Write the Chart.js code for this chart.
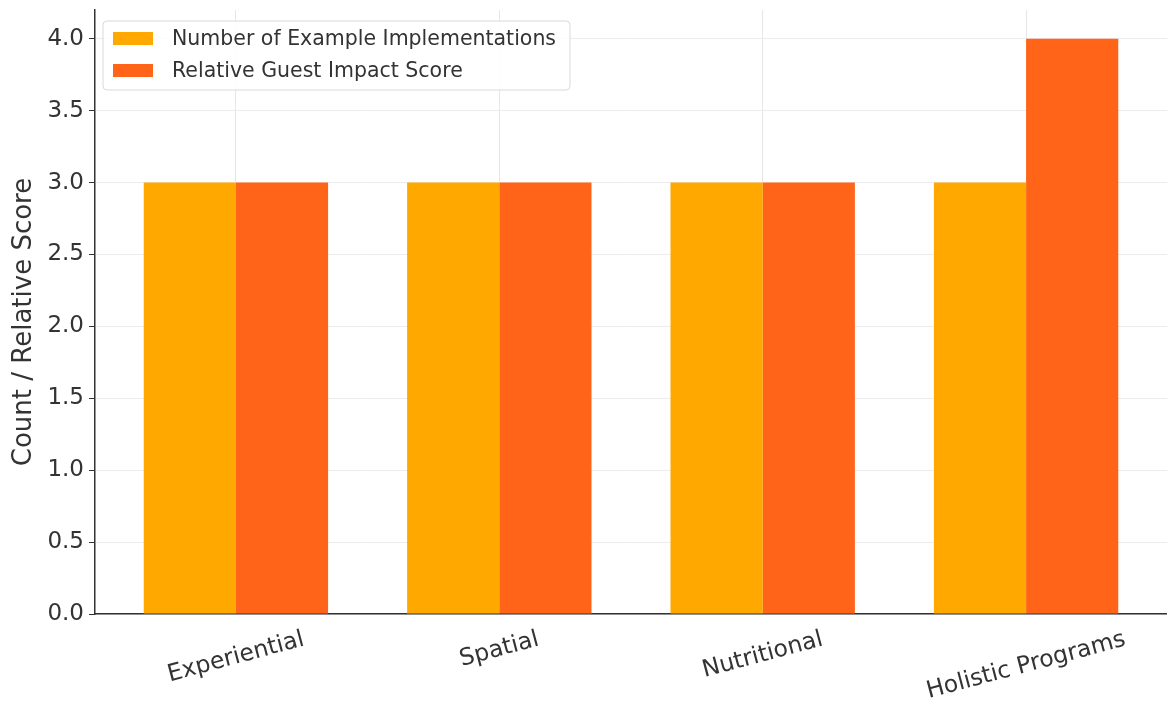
<!DOCTYPE html>
<html>
<head>
<meta charset="utf-8">
<title>Wellness Categories</title>
<script src="https://cdn.jsdelivr.net/npm/chart.js@4.4.1/dist/chart.umd.min.js"></script>
<style>
  body { margin: 0; background: #fff; }
  canvas { display: block; }
</style>
</head>
<body>
<canvas id="myChart" width="1167" height="719"></canvas>
<script>
// data
const categories = ["Experiential", "Spatial", "Nutritional", "Holistic Programs"];
const implementations = [3, 3, 3, 3];
const impactScores = [3, 3, 3, 4];
const yTicks = [0, 0.5, 1, 1.5, 2, 2.5, 3, 3.5, 4];
const seriesNames = ["Number of Example Implementations", "Relative Guest Impact Score"];
const seriesColors = ["#FFA800", "#FF6418"];
const yTitle = "Count / Relative Score";

const FONT = "'DejaVu Sans', sans-serif";
const TEXT = "#333333";

// rotated category labels, centered under each group
const catLabels = {
  id: "catLabels",
  afterDraw(chart) {
    const ctx = chart.ctx;
    const xs = chart.scales.x;
    const bottom = chart.chartArea.bottom;
    const ang = -15 * Math.PI / 180;
    const size = 23.5;
    ctx.save();
    ctx.font = size + "px " + FONT;
    ctx.fillStyle = TEXT;
    ctx.textAlign = "center";
    ctx.textBaseline = "middle";
    categories.forEach((c, i) => {
      const w = ctx.measureText(c).width;
      const h = size * 1.16;
      const bh = w * Math.sin(-ang) + h * Math.cos(ang);
      const px = xs.getPixelForValue(i);
      ctx.save();
      ctx.translate(px, bottom + 12 + bh / 2);
      ctx.rotate(ang);
      ctx.fillText(c, 0, 0);
      ctx.restore();
    });
    ctx.restore();
  },
};

// vertical axis title
const axisTitle = {
  id: "axisTitle",
  afterDraw(chart) {
    const ctx = chart.ctx;
    const a = chart.chartArea;
    ctx.save();
    ctx.translate(24, (a.top + a.bottom) / 2 + 10);
    ctx.rotate(-Math.PI / 2);
    ctx.font = "26px " + FONT;
    ctx.fillStyle = TEXT;
    ctx.textAlign = "center";
    ctx.textBaseline = "middle";
    ctx.fillText(yTitle, 0, 0);
    ctx.restore();
  },
};

// legend box inside the plot, top left
const boxLegend = {
  id: "boxLegend",
  afterDraw(chart) {
    const ctx = chart.ctx;
    const a = chart.chartArea;
    const x = a.left + 8, y = a.top + 11, w = 467, h = 69;
    ctx.save();
    ctx.beginPath();
    ctx.roundRect(x, y, w, h, 4);
    ctx.fillStyle = "rgba(255,255,255,0.85)";
    ctx.fill();
    ctx.strokeStyle = "#d9d9d9";
    ctx.lineWidth = 1;
    ctx.stroke();
    ctx.font = "20.5px " + FONT;
    ctx.textBaseline = "middle";
    chart.data.datasets.forEach((ds, i) => {
      const cy = y + 17.5 + i * 32;
      ctx.fillStyle = ds.backgroundColor;
      ctx.fillRect(x + 10, cy - 6.5, 40, 13);
      ctx.fillStyle = TEXT;
      ctx.fillText(ds.label, x + 69, cy + 1);
    });
    ctx.restore();
  },
};

const ctx = document.getElementById("myChart").getContext("2d");
const myChart = new Chart(ctx, {
  type: "bar",
  data: {
    datasets: [
      {
        label: seriesNames[0],
        data: implementations.map((v, i) => ({ x: i, y: v })),
        backgroundColor: seriesColors[0],
      },
      {
        label: seriesNames[1],
        data: impactScores.map((v, i) => ({ x: i, y: v })),
        backgroundColor: seriesColors[1],
      },
    ],
  },
  options: {
    responsive: false,
    animation: false,
    categoryPercentage: 0.7,
    barPercentage: 1.0,
    layout: { padding: { top: 10, right: 0, left: 0, bottom: 0 } },
    plugins: {
      legend: { display: false },
      tooltip: { enabled: false },
    },
    scales: {
      x: {
        type: "linear",
        offset: false,
        min: -0.535,
        max: 3.535,
        afterBuildTicks: (s) => {
          s.ticks = categories.map((c, i) => ({ value: i }));
        },
        afterFit: (s) => {
          s.height = 105;
          s.paddingLeft = 0;
          s.paddingRight = 0;
        },
        ticks: { display: false },
        grid: { color: "#e6e6e6", lineWidth: 1, drawTicks: false, offset: false },
        border: { display: true, color: TEXT, width: 1.5 },
      },
      y: {
        min: 0,
        max: 4.2,
        afterBuildTicks: (s) => {
          s.ticks = yTicks.map((v) => ({ value: v }));
        },
        afterFit: (s) => {
          s.width = 95;
          s.paddingTop = 0;
          s.paddingBottom = 0;
        },
        ticks: {
          color: TEXT,
          font: { family: FONT, size: 23 },
          padding: 5,
          callback: (v) => v.toFixed(1),
        },
        grid: { color: "#ececec", lineWidth: 1, tickColor: TEXT, tickLength: 6 },
        border: { display: true, color: TEXT, width: 1.5 },
      },
    },
  },
  plugins: [catLabels, axisTitle, boxLegend],
});
</script>
</body>
</html>
